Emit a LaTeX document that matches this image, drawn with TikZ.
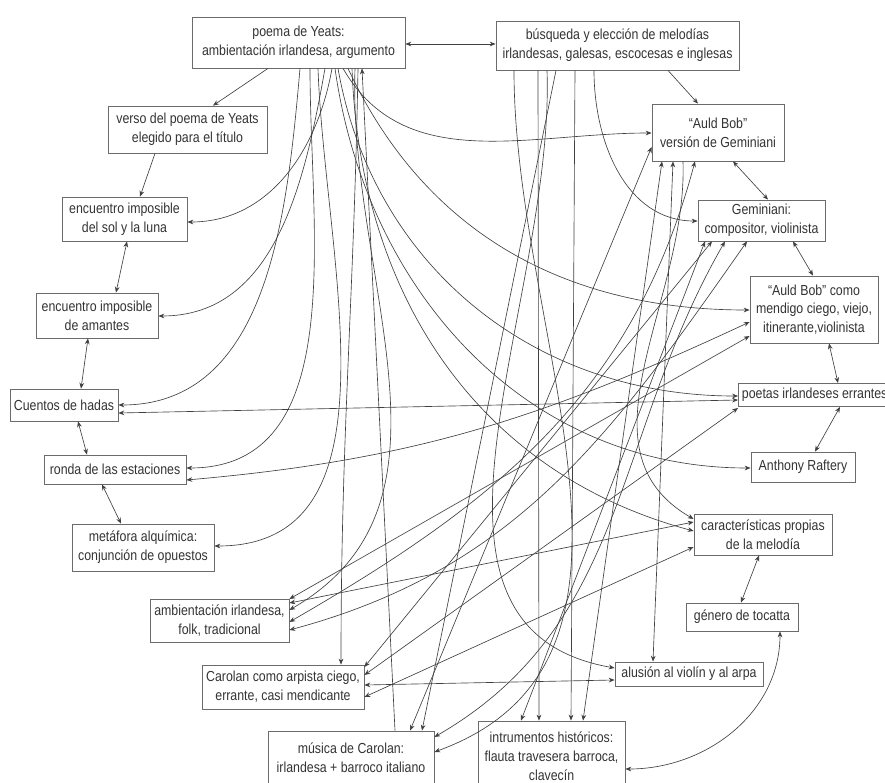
\documentclass[tikz,border=0pt]{standalone}
\usepackage{fontspec}
\setmainfont{Liberation Sans}[FakeStretch=0.85]
\usetikzlibrary{arrows.meta}

\definecolor{linegray}{gray}{0.25}
\definecolor{boxgray}{gray}{0.42}
\tikzset{
  box/.style={draw=boxgray, line width=0.7pt, align=center, inner sep=1pt,
    text=black!80, font=\fontsize{12.4}{16}\selectfont},
  link/.style={-{Stealth[length=5pt,width=4pt]}, draw=linegray, line width=0.55pt},
  both/.style={{Stealth[length=5pt,width=4pt]}-{Stealth[length=5pt,width=4pt]},
    draw=linegray, line width=0.55pt}
}

\begin{document}
\begin{tikzpicture}[x=0.03cm, y=-0.03cm]
        % frame of the picture
        \useasboundingbox (0,0) rectangle (885,783);
        \clip (0,0) rectangle (885,783);

        % left column
        \node[box, minimum width=6.39cm, minimum height=1.53cm] (yeats) at (298.5,42.5) {poema de Yeats:\\ambientación irlandesa, argumento};
        \node[box, minimum width=4.77cm, minimum height=1.41cm] (verso) at (187.5,129.5) {verso del poema de Yeats\\elegido para el título};
        \node[box, minimum width=3.75cm, minimum height=1.32cm] (sol) at (124.5,219) {encuentro imposible\\del sol y la luna};
        \node[box, minimum width=3.66cm, minimum height=1.35cm] (amantes) at (97,315.5) {encuentro imposible\\de amantes};
        \node[box, minimum width=3.24cm, minimum height=0.96cm] (cuentos) at (64,405) {Cuentos de hadas};
        \node[box, minimum width=4.26cm, minimum height=0.87cm] (ronda) at (115,469.5) {ronda de las estaciones};
        \node[box, minimum width=4.26cm, minimum height=1.41cm] (metafora) at (143,547.5) {metáfora alquímica:\\conjunción de opuestos};
        \node[box, minimum width=4.17cm, minimum height=1.29cm] (folk) at (219.5,620.5) {ambientación irlandesa,\\folk, tradicional};
        \node[box, minimum width=4.86cm, minimum height=1.32cm] (arpista) at (283,687) {Carolan como arpista ciego,\\errante, casi mendicante};
        \node[box, minimum width=4.98cm, minimum height=1.62cm] (musica) at (351,758) {música de Carolan:\\irlandesa + barroco italiano};

        % right column
        \node[box, minimum width=7.29cm, minimum height=1.47cm] (busq) at (617.5,45.5) {búsqueda y elección de melodías\\irlandesas, galesas, escocesas e inglesas};
        \node[box, minimum width=3.96cm, minimum height=1.71cm] (version) at (718,132.5) {“Auld Bob”\\versión de Geminiani};
        \node[box, minimum width=3.81cm, minimum height=1.23cm] (gemin) at (761.5,220.5) {Geminiani:\\compositor, violinista};
        \node[box, minimum width=3.84cm, minimum height=2.01cm] (como) at (814,309.5) {“Auld Bob” como\\mendigo ciego, viejo,\\itinerante,violinista};
        \node[box, minimum height=0.69cm, inner xsep=3pt, anchor=west] (poetas) at (738,395) {poetas irlandeses errantes};
        \node[box, minimum width=3.12cm, minimum height=0.9cm] (anthony) at (803,467) {Anthony Raftery};
        \node[box, minimum width=4.14cm, minimum height=1.23cm] (carac) at (763,534.5) {características propias\\de la melodía};
        \node[box, minimum width=3.36cm, minimum height=0.84cm] (genero) at (742,617) {género de tocatta};
        \node[box, minimum width=4.44cm, minimum height=0.72cm] (alusion) at (689,674) {alusión al violín y al arpa};
        \node[box, minimum width=4.41cm, minimum height=2.1cm] (instr) at (551.5,756) {intrumentos históricos:\\flauta travesera barroca,\\clavecín};

        % chains along the circle
        \draw[both] (yeats.east |- 0,44) -- (busq.west |- 0,44);
        \draw[link] (yeats.south -| 268,0) -- (verso.north -| 213,0);
        \draw[link] (verso.south -| 155,0) -- (sol.north -| 140,0);
        \draw[both] (sol.south -| 127,0) -- (amantes.north -| 116,0);
        \draw[both] (amantes.south -| 88,0) -- (cuentos.north -| 81,0);
        \draw[both] (cuentos.south -| 78,0) -- (ronda.north -| 87,0);
        \draw[both] (ronda.south -| 102,0) -- (metafora.north -| 121,0);
        \draw[link] (busq.south -| 668,0) -- (version.north -| 698,0);
        \draw[both] (version.south -| 733,0) -- (gemin.north -| 768,0);
        \draw[both] (gemin.south -| 793,0) -- (como.north -| 813,0);
        \draw[both] (como.south -| 829,0) -- (poetas.north -| 838,0);
        \draw[both] (poetas.south -| 840,0) -- (anthony.north -| 815,0);
        \draw[both] (carac.south -| 759,0) -- (genero.north -| 741,0);
        \draw[both] (genero.south -| 780,0) to[out=-90,in=0] (instr.east |- 0,769);

        % fan out of the poem
        \draw[link] (yeats.south -| 300,0) to[out=-95,in=0] (cuentos.east |- 0,405);
        \draw[link] (yeats.south -| 310,0) to[out=-90,in=0] (ronda.east |- 0,468);
        \draw[link] (yeats.south -| 318,0) to[out=-88,in=0] (metafora.east |- 0,546);
        \draw[link] (yeats.south -| 325,0) to[out=-100,in=0] (amantes.east |- 0,316);
        \draw[link] (yeats.south -| 332,0) to[out=-100,in=0] (sol.east |- 0,222);
        \draw[link] (yeats.south -| 343,0) to[out=-60,in=180] (version.west |- 0,133);
        \draw[link] (yeats.south -| 338,0) to[out=-80,in=180] (poetas.west |- 0,396);
        \draw[link] (yeats.south -| 348,0) to[out=-65,in=180] (como.west |- 0,310);
        \draw[link] (yeats.south -| 335,0) to[out=-82,in=180] (anthony.west |- 0,468);
        \draw[link] (yeats.south -| 352,0) to[out=-88,in=165] (carac.west |- 0,531);
        \draw[link] (yeats.south -| 355,0) to[out=-92,in=30] (folk.east |- 0,610);
        \draw[link] (yeats.south -| 358,0) to[out=-91,in=90] (arpista.north -| 341,0);
        \draw[link] (musica.north -| 395,0) -- (yeats.south -| 362,0);

        % lines out of the search of melodies
        \draw[link] (busq.south -| 514,0) to[out=-90,in=20] (musica.east |- 0,752);
        \draw[link] (busq.south -| 538,0) -- (instr.north -| 539,0);
        \draw[link] (busq.south -| 547,0) to[out=-88,in=170] (alusion.west |- 0,668);
        \draw[link] (busq.south -| 556,0) -- (musica.north -| 422,0);
        \draw[link] (busq.south -| 575,0) -- (instr.north -| 571,0);
        \draw[link] (busq.south -| 594,0) to[out=-90,in=180] (gemin.west |- 0,221);

        % Auld Bob and Geminiani
        \draw[both] (version.west |- 0,147) -- (musica.north -| 410,0);
        \draw[both] (version.south -| 662,0) -- (instr.north -| 583,0);
        \draw[both] (version.south -| 673,0) -- (alusion.north -| 653,0);
        \draw[link] (version.south -| 683,0) to[out=-88,in=150] (carac.west |- 0,519);
        \draw[both] (version.south -| 695,0) to[out=-105,in=30] (folk.east |- 0,622);
        \draw[both] (gemin.south -| 705,0) -- (instr.north -| 521,0);
        \draw[both] (gemin.south -| 712,0) -- (arpista.east |- 0,667);
        \draw[both] (gemin.south -| 725,0) to[out=-120,in=30] (musica.east |- 0,737);
        \draw[both] (gemin.south -| 747,0) to[out=-125,in=15] (folk.east |- 0,630);

        % lines to the right hand boxes
        \draw[both] (cuentos.east |- 0,413) -- (poetas.west |- 0,400);
        \draw[both] (ronda.east |- 0,480) to[out=5,in=205] (como.west |- 0,322);
        \draw[both] (folk.east |- 0,599) -- (como.west |- 0,336);
        \draw[both] (folk.east |- 0,603) -- (carac.west |- 0,522);
        \draw[both] (arpista.east |- 0,675) -- (poetas.west |- 0,408);
        \draw[both] (arpista.east |- 0,685) -- (alusion.west |- 0,680);
        \draw[both] (arpista.east |- 0,697) -- (carac.west |- 0,547);
\end{tikzpicture}
\end{document}
